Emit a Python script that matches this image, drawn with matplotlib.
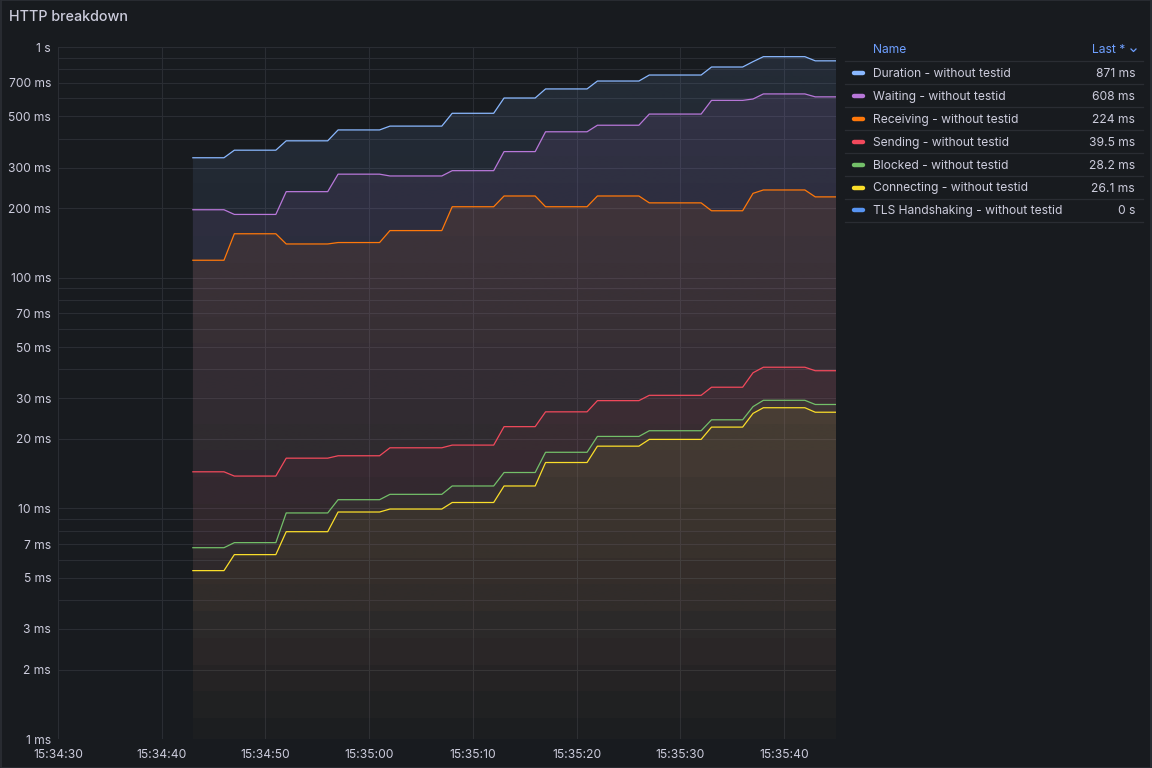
import numpy as np
import matplotlib
matplotlib.use("Agg")
import matplotlib.pyplot as plt
from matplotlib.ticker import FixedLocator, FuncFormatter
from matplotlib.lines import Line2D
from matplotlib.patches import Rectangle

plt.rcParams['font.family'] = ['Inter', 'DejaVu Sans']

# Data (seconds after 15:34:30, values in ms)
t = [13, 16, 17, 21, 22, 26, 27, 31, 32, 37, 38, 42, 43, 46, 47, 51, 52, 56,
     57, 62, 63, 66, 67, 68, 72, 73, 75]
duration = [331, 331, 357, 357, 392, 392, 437, 437, 454, 454, 516, 516, 601, 601,
            658, 658, 712, 712, 756, 756, 819, 819, 864, 908, 908, 871, 871]
waiting = [197, 197, 188, 188, 236, 236, 281, 281, 276, 276, 291, 291, 352, 352,
           429, 429, 458, 458, 512, 512, 587, 587, 595, 626, 626, 608, 608]
receiving = [119, 119, 155, 155, 140, 140, 142, 142, 160, 160, 203, 203, 226, 226,
             203, 203, 226, 226, 211, 211, 195, 195, 232, 240, 240, 224, 224]
sending = [14.4, 14.4, 13.8, 13.8, 16.5, 16.5, 16.9, 16.9, 18.3, 18.3, 18.8, 18.8,
           22.6, 22.6, 26.2, 26.2, 29.3, 29.3, 30.9, 30.9, 33.5, 33.5, 38.7, 40.9,
           40.9, 39.5, 39.5]
blocked = [6.75, 6.75, 7.10, 7.10, 9.55, 9.55, 10.9, 10.9, 11.5, 11.5, 12.5, 12.5,
           14.3, 14.3, 17.5, 17.5, 20.5, 20.5, 21.7, 21.7, 24.2, 24.2, 27.6, 29.4,
           29.4, 28.2, 28.2]
connecting = [5.37, 5.37, 6.30, 6.30, 7.92, 7.92, 9.64, 9.64, 9.93, 9.93, 10.6, 10.6,
              12.5, 12.5, 15.8, 15.8, 18.6, 18.6, 19.9, 19.9, 22.5, 22.5, 25.8, 27.3,
              27.3, 26.1, 26.1]
tls = [0] * len(t)

names = ["Duration - without testid", "Waiting - without testid",
         "Receiving - without testid", "Sending - without testid",
         "Blocked - without testid", "Connecting - without testid",
         "TLS Handshaking - without testid"]
series = [duration, waiting, receiving, sending, blocked, connecting, tls]
colors = ["#8AB8FF", "#B877D9", "#FF780A", "#F2495C", "#73BF69", "#FADE2A", "#5794F2"]

x_ticks = [0, 10, 20, 30, 40, 50, 60, 70]
x_labels = ["15:34:30", "15:34:40", "15:34:50", "15:35:00",
            "15:35:10", "15:35:20", "15:35:30", "15:35:40"]

BG = "#181b1f"
TXT = "#ccccdc"
GRID = "#2a2d33"
W, H = 1152, 768

fig = plt.figure(figsize=(W / 100, H / 100), dpi=100, facecolor=BG)


def fx(px):
    return px / W


def fy(py):
    return 1 - py / H


# panel border
fig.patches.append(Rectangle((0.0005, 0.0005), 0.999, 0.999, transform=fig.transFigure,
                             fill=False, edgecolor="#2c2f35", lw=1.2))
fig.text(fx(9), fy(17), "HTTP breakdown", color=TXT, fontsize=10.3,
         fontweight="medium", va="center", ha="left")

ax = fig.add_axes([fx(58), fy(739), fx(836) - fx(58), fy(47) - fy(739)])
ax.set_facecolor(BG)
ax.set_yscale("log")

# gradient fills (opacity fades towards the bottom of the plot)
grad = np.linspace(0, 1, 512).reshape(-1, 1)
for vals, c in zip(series, colors):
    v = np.array(vals, dtype=float)
    if v.max() <= 0:
        continue
    poly = ax.fill_between(t, v, 1.0, color="none", lw=0)
    rgba = np.zeros((512, 1, 4))
    rgba[..., :3] = matplotlib.colors.to_rgb(c)
    rgba[..., 3] = 0.11 * (0.08 + 0.92 * grad)
    im = ax.imshow(rgba, extent=[0, 1, 0, 1], transform=ax.transAxes,
                   origin="lower", aspect="auto", zorder=1, interpolation="bilinear")
    im.set_clip_path(poly.get_paths()[0], transform=ax.transData)
    ax.plot(t, v, color=c, lw=0.9, zorder=3)

ax.set_xlim(0, 75)
ax.set_ylim(1, 1000)

# y ticks: grid on every 1..9 multiple, labels on 1, 2, 3, 5, 7
yt = [m * 10 ** k for k in range(3) for m in range(1, 10)] + [1000]
ax.yaxis.set_major_locator(FixedLocator(yt))
ax.yaxis.set_minor_locator(FixedLocator([]))


def ylab(v, pos):
    lead = int(round(v / 10 ** np.floor(np.log10(v) + 1e-9)))
    if lead not in (1, 2, 3, 5, 7):
        return ""
    if v >= 1000:
        return "1 s"
    return f"{v:g} ms"


ax.yaxis.set_major_formatter(FuncFormatter(ylab))
ax.set_xticks(x_ticks)
ax.set_xticklabels(x_labels)
ax.tick_params(length=0, colors=TXT, labelsize=8.7)
ax.tick_params(axis="y", pad=5)
ax.tick_params(axis="x", pad=7)
ax.grid(True, color=GRID, lw=0.8)
ax.set_axisbelow(True)
for s in ax.spines.values():
    s.set_visible(False)

# legend table
HEAD = "#6e9fff"
FS = 8.7
fig.text(fx(873), fy(50), "Name", color=HEAD, fontsize=FS, va="center", ha="left")
fig.text(fx(1125), fy(50), "Last *", color=HEAD, fontsize=FS, va="center", ha="right")
fig.lines.append(Line2D([fx(1131), fx(1133.5), fx(1136)], [fy(49), fy(51.5), fy(49)],
                        transform=fig.transFigure, color=HEAD, lw=0.9))
sep_y = [61, 84, 107, 130, 153, 176, 199, 222]
for yy in sep_y:
    fig.lines.append(Line2D([fx(845), fx(1143)], [fy(yy), fy(yy)],
                            transform=fig.transFigure, color="#2a2d33", lw=0.9))
for i, (name, vals, c) in enumerate(zip(names, series, colors)):
    yy = 73 + i * 22.9
    fig.lines.append(Line2D([fx(854), fx(863)], [fy(yy), fy(yy)], transform=fig.transFigure,
                            color=c, lw=3.2, solid_capstyle="round"))
    fig.text(fx(873), fy(yy + 1), name, color=TXT, fontsize=FS, va="center", ha="left")
    last = vals[-1]
    lab = f"{last:.3g} ms" if last > 0 else "0 s"
    fig.text(fx(1135), fy(yy + 1), lab, color=TXT, fontsize=FS, va="center", ha="right")

fig.savefig("out.png", dpi=100, facecolor=BG)
